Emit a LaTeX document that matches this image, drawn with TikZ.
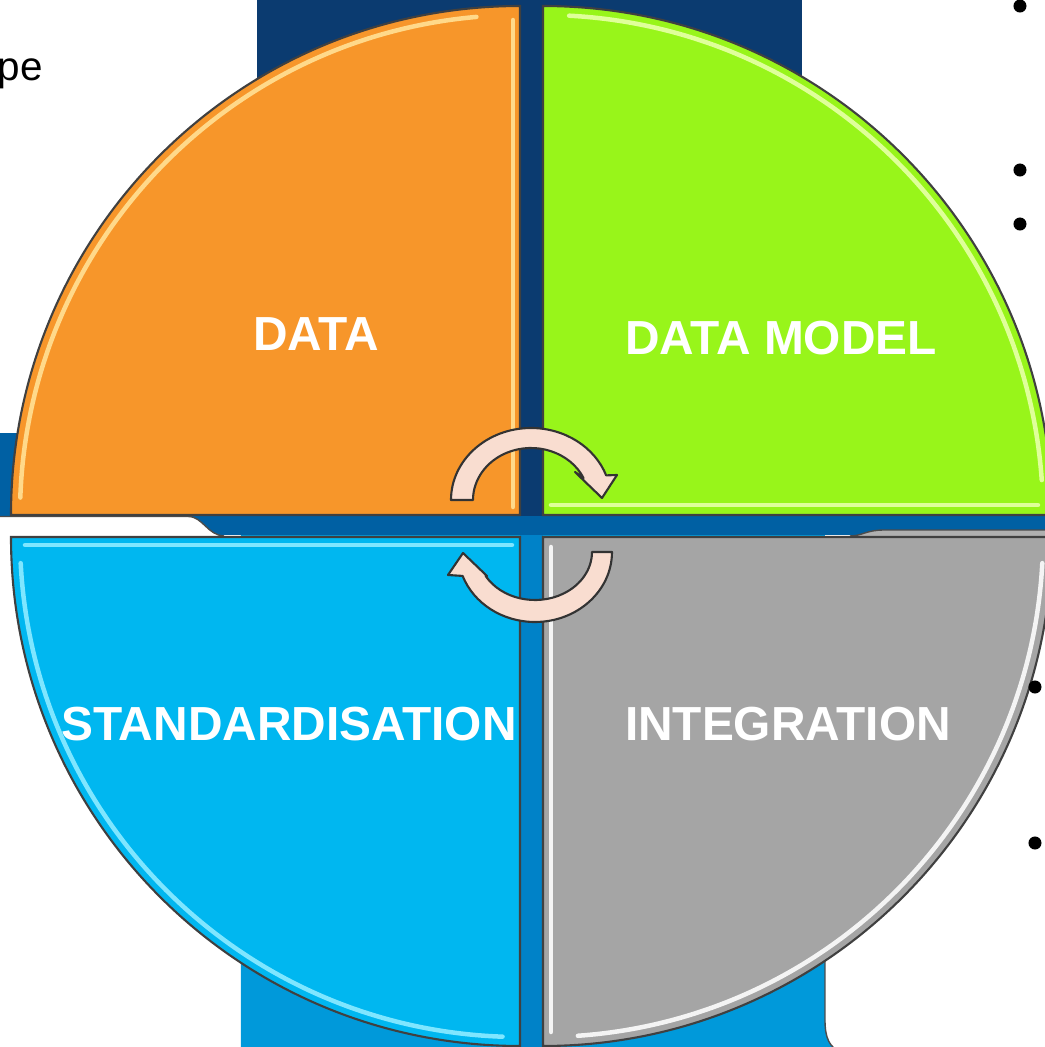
\documentclass[tikz,border=0pt]{standalone}
\usepackage{fontspec}
\setmainfont{Liberation Sans}
\definecolor{navy}{HTML}{0B3B70}
\definecolor{skyblue}{HTML}{0099DA}
\definecolor{gapblue}{HTML}{0082C8}
\definecolor{bandblue}{HTML}{0060A3}
\definecolor{tabgray}{HTML}{B0B0B0}
\definecolor{dataorange}{HTML}{F7962A}
\definecolor{modelgreen}{HTML}{98F51A}
\definecolor{stdblue}{HTML}{00B7F0}
\definecolor{intgray}{HTML}{A5A5A5}
\definecolor{orangeshine}{HTML}{FFD98A}
\definecolor{greenshine}{HTML}{DFFF9A}
\definecolor{blueshine}{HTML}{7FE6FF}
\definecolor{grayshine}{HTML}{F4F4F4}
\definecolor{arrowpink}{HTML}{F9DDD0}
\begin{document}
\begin{tikzpicture}[x=0.01cm,y=0.01cm,
  quarter/.style={draw=black!75,line width=0.6pt},
  shine/.style={line width=0.045cm,line cap=round},
  quartertext/.style={text=white,font=\fontsize{13.6}{16}\selectfont\bfseries},
  cyclearrow/.style={fill=arrowpink,draw=black!80,line width=0.6pt,line join=round},
  bulletdot/.style={circle,fill=black,inner sep=0,minimum size=0.13cm}]
\useasboundingbox (0,0) rectangle (1045,1047);
\clip (0,0) rectangle (1045,1047);
% background
\fill[navy] (257,520) rectangle (802,1050);
\fill[skyblue] (241,-5) -- (241,520) -- (825,520) -- (825,27) .. controls (825,8) and (830,0) .. (840,-5) -- cycle;
\draw[black!70] (825,480) -- (825,27) .. controls (825,8) and (830,0) .. (840,-5);
\fill[gapblue] (520,0) rectangle (543,512);
\fill[bandblue] (-5,512) rectangle (300,614);
\fill[bandblue] (-5,512) rectangle (1050,531);
\fill[white] (-5,511) -- (-5,530.5) -- (188,530.5) .. controls (203,530.5) and (207,512) .. (224,511) -- cycle;
\draw[black!70] (-5,530.5) -- (188,530.5) .. controls (203,530.5) and (207,512) .. (224,511);
\fill[tabgray] (850,460) -- (850,511) .. controls (862,511) and (866,517) .. (884,517) -- (1050,517) -- (1050,460) -- cycle;
\draw[black!70] (850,511) .. controls (862,511) and (866,517) .. (884,517) -- (1050,517);
% quadrants
\draw[quarter,fill=dataorange] (520,532) -- (520,1041) arc[start angle=90,end angle=180,radius=509] -- cycle;
\draw[quarter,fill=modelgreen] (543,532) -- (1052,532) arc[start angle=0,end angle=90,radius=509] -- cycle;
\draw[quarter,fill=stdblue] (520,510) -- (11,510) arc[start angle=180,end angle=270,radius=509] -- cycle;
\draw[quarter,fill=intgray] (543,510) -- (543,1) arc[start angle=270,end angle=360,radius=509] -- cycle;
% highlights
\begin{scope}[shift={(520,532)}]
\draw[shine,orangeshine] (-7,8) -- (-7,495);
\draw[shine,orangeshine] (95:500) arc[start angle=95,end angle=178,radius=500];
\end{scope}
\begin{scope}[shift={(543,532)}]
\draw[shine,greenshine] (8,10) -- (495,10);
\draw[shine,greenshine] (4:500) arc[start angle=4,end angle=87,radius=500];
\end{scope}
\begin{scope}[shift={(520,510)}]
\draw[shine,blueshine] (-8,-8) -- (-495,-8);
\draw[shine,blueshine] (183:500) arc[start angle=183,end angle=268,radius=500];
\end{scope}
\begin{scope}[shift={(543,510)}]
\draw[shine,grayshine] (8,-10) -- (8,-495);
\draw[shine,grayshine] (274:500) arc[start angle=274,end angle=357,radius=500];
\end{scope}
% labels
\node[quartertext] (data) at (316,713) {DATA};
\node[quartertext] (model) at (781,709) {DATA MODEL};
\node[quartertext] (std) at (289,323) {STANDARDISATION};
\node[quartertext] (integ) at (788,323) {INTEGRATION};
% cycle arrows
\begin{scope}[shift={(531,547)}]
\draw[cyclearrow] (-58,0) -- (-80,0) arc[start angle=180,end angle=20,x radius=80,y radius=72] -- (86,25) -- (71,2) -- (44,28) -- (25:58 and 52) arc[start angle=25,end angle=180,x radius=58,y radius=52] -- cycle;
\end{scope}
\begin{scope}[shift={(535,495)}]
\draw[cyclearrow] (57,0) -- (77,0) arc[start angle=0,end angle=-160,x radius=77,y radius=70] -- (-87,-23) -- (-72,-1) -- (-48,-24) -- (-150:57 and 48) arc[start angle=-150,end angle=0,x radius=57,y radius=48] -- cycle;
\end{scope}
% slide text around
\node[anchor=base west,inner sep=0,font=\fontsize{11.5}{13}\selectfont] (pe) at (-3,967) {pe};
\node[bulletdot] (b1) at (1020,1041) {};
\node[bulletdot] (b2) at (1020,877) {};
\node[bulletdot] (b3) at (1020,823) {};
\node[bulletdot] (b4) at (1035,360) {};
\node[bulletdot] (b5) at (1035,204) {};
\end{tikzpicture}
\end{document}
